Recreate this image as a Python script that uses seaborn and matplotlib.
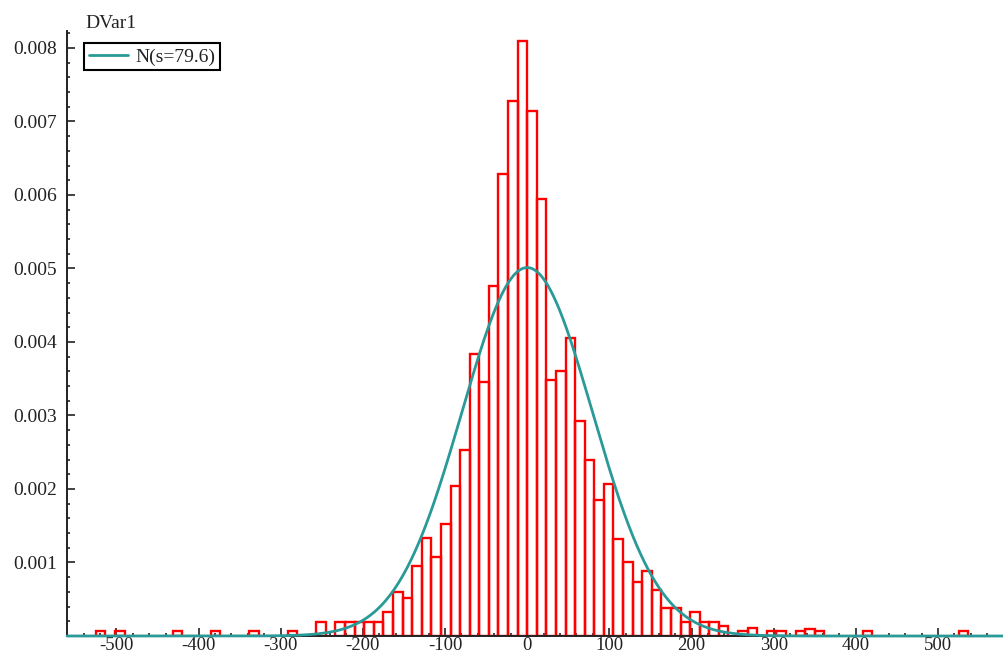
import numpy as np
import pandas as pd
import matplotlib
matplotlib.use("Agg")
import matplotlib.pyplot as plt
import seaborn as sns
from matplotlib.ticker import MultipleLocator, FixedLocator, FuncFormatter

# Histogram bins: width and the left-edge index (in bin widths) of every non-empty bin
BIN_WIDTH = 35 / 3
bin_k = [-45, -43, -37, -33, -29, -25, -22,
         -20, -19, -18, -17, -16, -15, -14, -13, -12, -11,
         -10, -9, -8, -7, -6, -5, -4, -3, -2, -1,
         0, 1, 2, 3, 4, 5, 6, 7, 8, 9, 10,
         11, 12, 13, 14, 15, 16, 17, 18, 19, 20,
         22, 23, 25, 26, 28, 29, 30, 35, 45]
# Density of each bin (units of 1e-3)
density_e3 = [0.07, 0.07, 0.07, 0.07, 0.07, 0.07, 0.19,
              0.19, 0.19, 0.19, 0.19, 0.19, 0.33, 0.60, 0.52, 0.95, 1.33,
              1.08, 1.52, 2.04, 2.53, 3.84, 3.45, 4.76, 6.29, 7.28, 8.09,
              7.14, 5.94, 3.48, 3.60, 4.05, 2.93, 2.40, 1.85, 2.07, 1.32, 1.00,
              0.74, 0.89, 0.62, 0.38, 0.38, 0.19, 0.33, 0.19, 0.19, 0.13,
              0.07, 0.11, 0.07, 0.07, 0.07, 0.10, 0.07, 0.07, 0.07]

# Fitted normal curve
fit_mean = 0.0
fit_sigma = 79.6
legend_label = "N(s=79.6)"
axis_label = "DVar1"

x_ticks = [-500, -400, -300, -200, -100, 0, 100, 200, 300, 400, 500]
y_ticks = [0.001, 0.002, 0.003, 0.004, 0.005, 0.006, 0.007, 0.008]

RED = "#ff0000"
TEAL = "#2a9a98"
INK = "#222222"

sns.set_style("ticks")
plt.rcParams["font.family"] = ["Liberation Serif", "DejaVu Serif"]
plt.rcParams["axes.unicode_minus"] = False

W, H = 1004, 659
fig = plt.figure(figsize=(W / 100, H / 100), dpi=100)
ax = fig.add_axes([67 / W, (H - 636) / H, (1003 - 67) / W, (636 - 31) / H])

df = pd.DataFrame({
    "center": (np.array(bin_k) + 0.5) * BIN_WIDTH,
    "density": np.array(density_e3) * 1e-3,
})
edges = (np.arange(min(bin_k), max(bin_k) + 2) * BIN_WIDTH).tolist()

sns.histplot(data=df, x="center", weights="density", bins=edges, stat="count",
             element="bars", fill=False, color=RED, linewidth=1.7, ax=ax)
# empty bins are not outlined
for p in list(ax.patches):
    if p.get_height() <= 0:
        p.remove()
    else:
        p.set_edgecolor(RED)

xs = np.linspace(-560, 579, 1500)
pdf = np.exp(-0.5 * ((xs - fit_mean) / fit_sigma) ** 2) / (fit_sigma * np.sqrt(2 * np.pi))
sns.lineplot(x=xs, y=pdf, color=TEAL, linewidth=2.0, ax=ax, label=legend_label)
curve = ax.lines[-1]
curve.set_clip_on(False)
curve.set_zorder(4)

ax.set_xlim(-560.1, 579.1)
ax.set_ylim(0, 0.00823)

sns.despine(ax=ax, top=True, right=True)
for s in ("left", "bottom"):
    ax.spines[s].set_color(INK)
    ax.spines[s].set_linewidth(1.4)

ax.xaxis.set_major_locator(FixedLocator(x_ticks))
ax.xaxis.set_minor_locator(MultipleLocator(20))
ax.yaxis.set_major_locator(FixedLocator(y_ticks))
ax.yaxis.set_minor_locator(MultipleLocator(0.0002))
ax.xaxis.set_major_formatter(FuncFormatter(lambda v, p: f"{v:.0f}"))
ax.yaxis.set_major_formatter(FuncFormatter(lambda v, p: f"{v:.3f}"))

ax.tick_params(axis="both", which="both", direction="in", color=INK,
               labelcolor=INK, labelsize=14, width=1.2)
ax.tick_params(axis="both", which="major", length=5.5)
ax.tick_params(axis="both", which="minor", length=2.5)
ax.tick_params(axis="x", which="major", pad=1, labelsize=13.5)
ax.tick_params(axis="y", which="major", pad=7)
ax.set_xlabel("")
ax.set_ylabel("")

fig.text(85 / W, 1 - 28 / H, axis_label, fontsize=14, color=INK,
         ha="left", va="baseline")

leg = ax.legend(loc="upper left", bbox_to_anchor=(84 / W, 1 - 43 / H),
                bbox_transform=fig.transFigure, borderaxespad=0,
                fancybox=False, framealpha=1, edgecolor="black",
                fontsize=14, handlelength=2.0, handletextpad=0.4,
                borderpad=0.25)
leg.get_frame().set_linewidth(1.5)
for t in leg.get_texts():
    t.set_color(INK)

fig.savefig("out.png", dpi=100)
